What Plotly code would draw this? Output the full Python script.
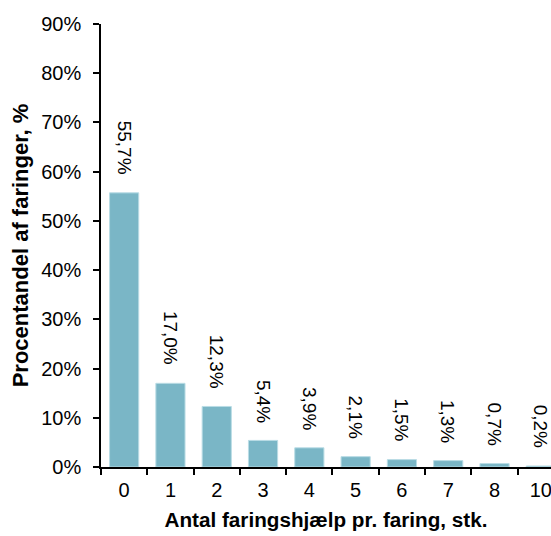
import plotly.graph_objects as go

# Share of farrowings by number of farrowing assists
categories = ["0", "1", "2", "3", "4", "5", "6", "7", "8", "10"]
shares = [55.7, 17.0, 12.3, 5.4, 3.9, 2.1, 1.5, 1.3, 0.7, 0.2]
y_ticks = [0, 10, 20, 30, 40, 50, 60, 70, 80, 90]

FONT = "Liberation Sans, Arial, sans-serif"
BAR_COLOR = "#7AB6C6"


def fmt_pct(v):
    return f"{v:.1f}".replace(".", ",") + "%"


fig = go.Figure()
fig.add_trace(go.Bar(
    x=categories,
    y=shares,
    width=0.63,
    marker=dict(color=BAR_COLOR, line=dict(color="#B9DCE5", width=1)),
    hoverinfo="skip",
))

# Rotated value labels above each bar (positioned by category index)
for i, val in enumerate(shares):
    fig.add_annotation(
        x=i, y=val, text=fmt_pct(val), showarrow=False,
        textangle=90, xanchor="center", yanchor="bottom", yshift=16,
        font=dict(family=FONT, size=19, color="#000000"),
    )

fig.update_layout(
    width=551, height=536,
    margin=dict(l=101, r=0, t=24, b=69),
    paper_bgcolor="white", plot_bgcolor="white",
    showlegend=False,
    font=dict(family=FONT, color="#000000"),
)

fig.update_xaxes(
    type="category",
    categoryorder="array", categoryarray=categories,
    range=[-0.5, 9.22],
    showline=True, linecolor="#000000", linewidth=1.5,
    ticks="outside", tickson="boundaries", ticklen=6, tickwidth=1.5, tickcolor="#000000",
    tickfont=dict(family=FONT, size=20), ticklabelstandoff=4,
    showgrid=False, zeroline=False,
    title=dict(text="<b>Antal faringshjælp pr. faring, stk.</b>",
               font=dict(family=FONT, size=20.7), standoff=13),
)

fig.update_yaxes(
    range=[0, 90],
    tickvals=y_ticks, ticktext=[f"{t}%" for t in y_ticks],
    showline=True, linecolor="#000000", linewidth=1.5,
    ticks="outside", ticklen=6, tickwidth=1.5, tickcolor="#000000",
    tickfont=dict(family=FONT, size=20), ticklabelstandoff=8,
    showgrid=False, zeroline=False,
    title=dict(text="<b>Procentandel af faringer, %</b>",
               font=dict(family=FONT, size=22), standoff=7),
)

fig.write_html("out.html")
